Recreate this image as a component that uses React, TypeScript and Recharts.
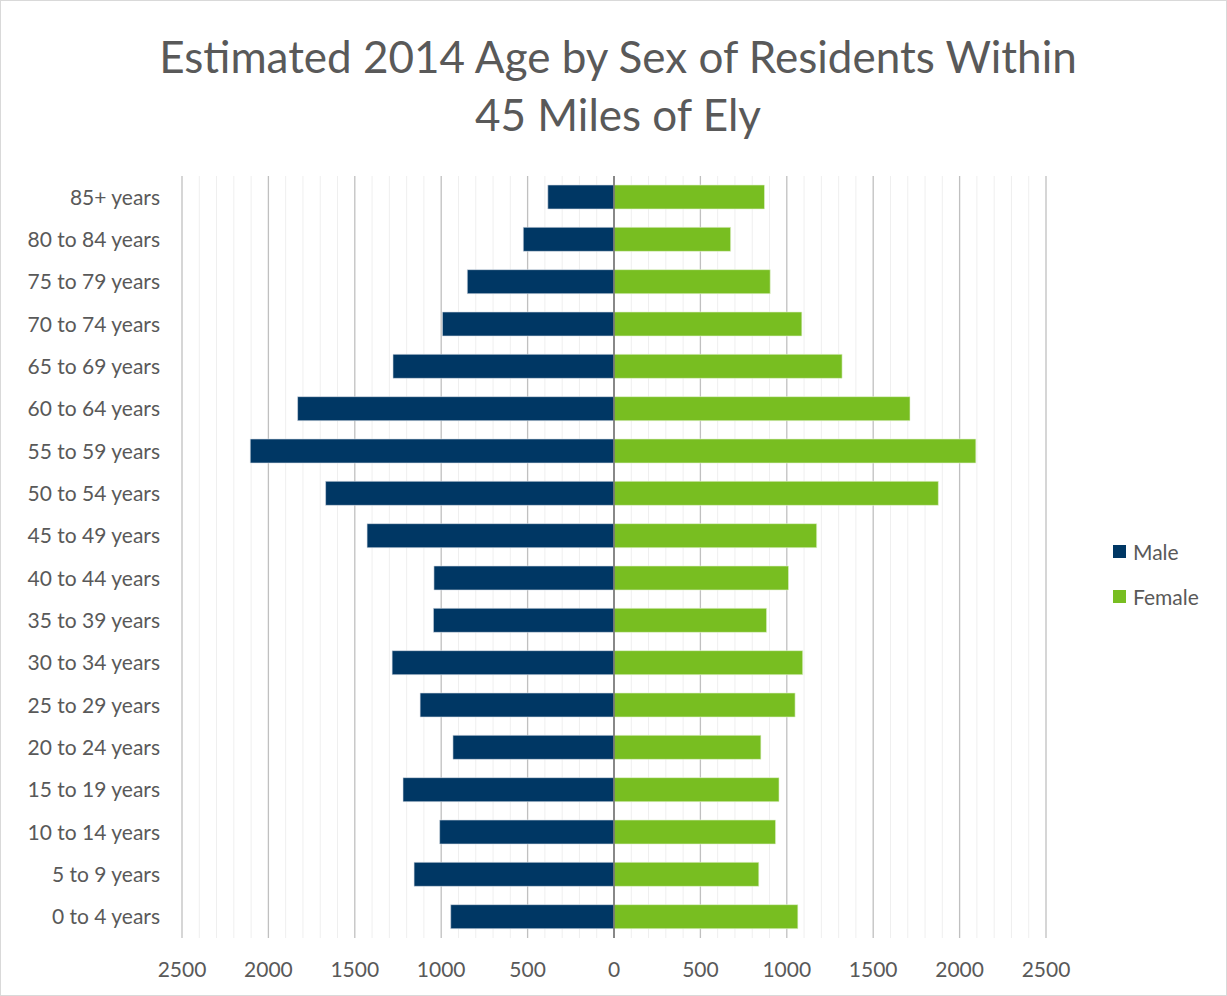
import {
  BarChart,
  Bar,
  XAxis,
  YAxis,
  CartesianGrid,
  ReferenceLine,
} from "recharts";

const AGE_GROUPS = [
  "0 to 4 years",
  "5 to 9 years",
  "10 to 14 years",
  "15 to 19 years",
  "20 to 24 years",
  "25 to 29 years",
  "30 to 34 years",
  "35 to 39 years",
  "40 to 44 years",
  "45 to 49 years",
  "50 to 54 years",
  "55 to 59 years",
  "60 to 64 years",
  "65 to 69 years",
  "70 to 74 years",
  "75 to 79 years",
  "80 to 84 years",
  "85+ years",
];

const MALE = [945, 1157, 1009, 1221, 932, 1122, 1284, 1045, 1042, 1429, 1669, 2105, 1831, 1279, 993, 849, 525, 383];
const FEMALE = [1064, 838, 935, 955, 850, 1048, 1092, 883, 1010, 1173, 1877, 2094, 1713, 1320, 1087, 904, 675, 871];

const X_TICKS = [-2500, -2000, -1500, -1000, -500, 0, 500, 1000, 1500, 2000, 2500];
const MINOR_LINES = Array.from({ length: 51 }, (_, i) => -2500 + i * 100).filter((v) => v % 500 !== 0);

const MALE_COLOR = "#003764";
const FEMALE_COLOR = "#78be21";
const TEXT = "#595959";
const FONT = "Lato, 'Open Sans', sans-serif";

const data = AGE_GROUPS.map((age, i) => ({ age, male: -MALE[i], female: FEMALE[i] }));

function LegendBox() {
  const items = [
    { label: "Male", color: MALE_COLOR },
    { label: "Female", color: FEMALE_COLOR },
  ];
  return (
    <div style={{ position: "absolute", left: 1112, top: 528, fontFamily: FONT, fontSize: 21, color: TEXT }}>
      {items.map((it) => (
        <div key={it.label} style={{ display: "flex", alignItems: "center", height: 45 }}>
          <span style={{ width: 13, height: 13, background: it.color, marginRight: 7, display: "inline-block" }} />
          {it.label}
        </div>
      ))}
    </div>
  );
}

export default function App() {
  return (
    <div
      style={{
        position: "absolute",
        left: 0,
        top: 0,
        width: 1227,
        height: 996,
        boxSizing: "border-box",
        border: "1px solid #d9d9d9",
        background: "#fff",
      }}
    >
      <div
        style={{
          position: "absolute",
          left: 0,
          top: 26,
          width: 1234,
          textAlign: "center",
          fontFamily: FONT,
          fontSize: 44,
          lineHeight: "58px",
          color: TEXT,
        }}
      >
        Estimated 2014 Age by Sex of Residents Within
        <br />
        45 Miles of Ely
      </div>
      <div style={{ position: "absolute", left: -1, top: -1 }}>
        <BarChart
          width={1227}
          height={996}
          data={data}
          layout="vertical"
          stackOffset="sign"
          barSize={24}
          margin={{ top: 176, right: 181, bottom: 18, left: 0 }}
        >
          <CartesianGrid horizontal={false} verticalValues={MINOR_LINES} stroke="#efefef" strokeWidth={1} />
          <CartesianGrid horizontal={false} verticalValues={X_TICKS} stroke="#c0c0c0" strokeWidth={1.3} />
          <XAxis
            type="number"
            domain={[-2500, 2500]}
            ticks={X_TICKS}
            tickFormatter={(v) => `${Math.abs(v)}`}
            axisLine={false}
            tickLine={false}
            tickSize={0}
            tickMargin={24}
            height={40}
            tick={{ fontSize: 21, fill: TEXT, fontFamily: FONT }}
            interval={0}
          />
          <YAxis
            type="category"
            dataKey="age"
            reversed
            width={182}
            axisLine={false}
            tickLine={false}
            tickSize={0}
            tickMargin={22}
            interval={0}
            tick={{ fontSize: 21, fill: TEXT, fontFamily: FONT }}
          />
          <Bar dataKey="male" name="Male" stackId="a" fill={MALE_COLOR} stroke="#d6dee6" strokeWidth={0.6} isAnimationActive={false} />
          <Bar dataKey="female" name="Female" stackId="a" fill={FEMALE_COLOR} stroke="#e3f1d0" strokeWidth={0.6} isAnimationActive={false} />
          <ReferenceLine x={0} stroke="#6e6e6e" strokeWidth={1.5} />
        </BarChart>
      </div>
      <LegendBox />
    </div>
  );
}
